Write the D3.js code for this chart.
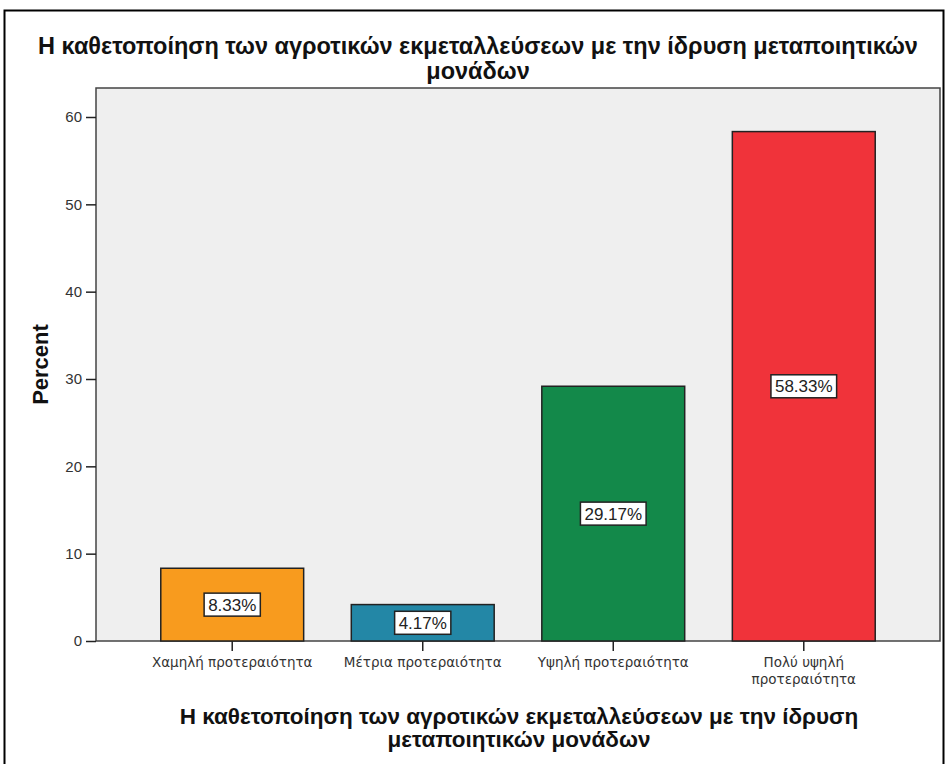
<!DOCTYPE html>
<html>
<head>
<meta charset="utf-8">
<script src="https://cdn.jsdelivr.net/npm/d3@7"></script>
<style>
  body { margin: 0; background: #fff; }
  svg { display: block; font-family: "Liberation Sans", Arial, sans-serif; }
</style>
</head>
<body>
<svg id="chart"></svg>
<script>
const categories = ['Χαμηλή προτεραιότητα', 'Μέτρια προτεραιότητα', 'Υψηλή προτεραιότητα', 'Πολύ υψηλή προτεραιότητα'];
const values = [8.33, 4.17, 29.17, 58.33];
const colors = ['#f89b1e', '#2387a6', '#13894a', '#f0333a'];
const yTicks = [0, 10, 20, 30, 40, 50, 60];
const titleLines = ['Η καθετοποίηση των αγροτικών εκμεταλλεύσεων με την ίδρυση μεταποιητικών', 'μονάδων'];
const xTitleLines = ['Η καθετοποίηση των αγροτικών εκμεταλλεύσεων με την ίδρυση', 'μεταποιητικών μονάδων'];

const width = 947, height = 764;
const margin = {top: 88, right: 7, bottom: 123, left: 96};

const svg = d3.select('#chart')
    .attr('width', width)
    .attr('height', height);

// outer frame (no bottom edge visible)
svg.append('path')
    .attr('d', `M4.5,${height} V10.5 H943.5 V${height}`)
    .attr('fill', 'none')
    .attr('stroke', '#000')
    .attr('stroke-width', 2);

const x = d3.scaleBand()
    .domain(categories)
    .range([margin.left, width - margin.right])
    .paddingInner(0.25)
    .paddingOuter(0.34);

const y = d3.scaleLinear()
    .domain([0, 60])
    .range([height - margin.bottom, 117]);

// plot background
svg.append('rect')
    .attr('x', margin.left)
    .attr('y', margin.top)
    .attr('width', width - margin.right - margin.left)
    .attr('height', height - margin.bottom - margin.top)
    .attr('fill', '#efefef')
    .attr('stroke', '#444')
    .attr('stroke-width', 1.5);

// title
svg.append('text')
    .attr('text-anchor', 'middle')
    .style('font-size', '23.5px')
    .style('font-weight', 'bold')
    .attr('fill', '#111')
  .selectAll('tspan')
  .data(titleLines)
  .join('tspan')
    .attr('x', 478)
    .attr('y', (d, i) => 54 + i * 25)
    .text(d => d);

// bars
svg.append('g')
  .selectAll('rect')
  .data(values)
  .join('rect')
    .attr('x', (d, i) => x(categories[i]))
    .attr('y', d => y(d))
    .attr('width', x.bandwidth())
    .attr('height', d => y(0) - y(d))
    .attr('fill', (d, i) => colors[i])
    .attr('stroke', '#222')
    .attr('stroke-width', 1.5);

// value labels in white boxes sized to the text
const lab = svg.append('g')
  .selectAll('g')
  .data(values)
  .join('g')
    .attr('transform', (d, i) => `translate(${x(categories[i]) + x.bandwidth() / 2},${(y(d) + y(0)) / 2})`);

const box = lab.append('rect')
    .attr('fill', '#fff')
    .attr('stroke', '#222')
    .attr('stroke-width', 1.5);

lab.append('text')
    .attr('text-anchor', 'middle')
    .attr('dy', '0.36em')
    .style('font-size', '17px')
    .attr('fill', '#222')
    .text(d => d.toFixed(2) + '%');

box.each(function() {
  const w = this.parentNode.querySelector('text').getComputedTextLength() + 8;
  d3.select(this)
      .attr('x', -w / 2)
      .attr('y', -11.5)
      .attr('width', w)
      .attr('height', 23);
});

// y axis
const yAxis = svg.append('g')
    .attr('transform', `translate(${margin.left},0)`)
    .call(d3.axisLeft(y).tickValues(yTicks).tickSize(10).tickPadding(4));
yAxis.select('.domain').remove();
yAxis.selectAll('line').attr('stroke', '#222').attr('stroke-width', 1.5);
yAxis.selectAll('text').style('font-size', '15px').style('font-family', 'inherit').attr('fill', '#333');

svg.append('text')
    .attr('transform', `translate(48,${(margin.top + height - margin.bottom) / 2}) rotate(-90)`)
    .attr('text-anchor', 'middle')
    .style('font-size', '22px')
    .style('font-weight', 'bold')
    .attr('fill', '#111')
    .text('Percent');

// x axis
const xAxis = svg.append('g')
    .attr('transform', `translate(0,${height - margin.bottom})`)
    .call(d3.axisBottom(x).tickSize(10).tickPadding(4));
xAxis.select('.domain').remove();
xAxis.selectAll('line').attr('stroke', '#222').attr('stroke-width', 1.5);
xAxis.selectAll('text').remove();

const xLabelLines = {'Πολύ υψηλή προτεραιότητα': ['Πολύ υψηλή', 'προτεραιότητα']};
xAxis.selectAll('.tick')
  .append('text')
    .attr('text-anchor', 'middle')
    .attr('fill', '#333')
    .style('font-family', '"DejaVu Sans", Verdana, sans-serif')
    .style('font-size', '13.5px')
  .selectAll('tspan')
  .data(d => xLabelLines[d] || [d])
  .join('tspan')
    .attr('x', 0)
    .attr('y', (d, i) => 26 + i * 17)
    .text(d => d);

svg.append('text')
    .attr('text-anchor', 'middle')
    .style('font-size', '22.5px')
    .style('font-weight', 'bold')
    .attr('fill', '#111')
  .selectAll('tspan')
  .data(xTitleLines)
  .join('tspan')
    .attr('x', 519)
    .attr('y', (d, i) => 724 + i * 23)
    .text(d => d);
</script>
</body>
</html>
